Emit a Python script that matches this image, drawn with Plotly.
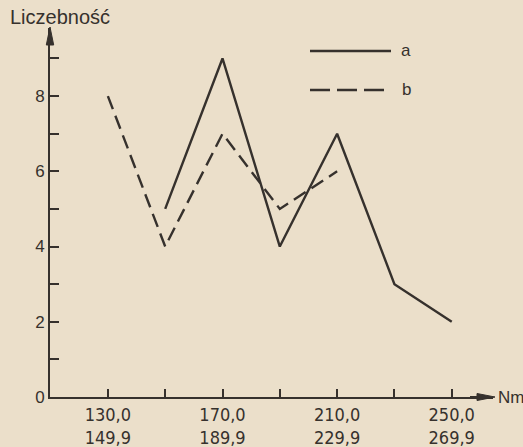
import plotly.graph_objects as go

# Class intervals (lower / upper bounds, Nm) and frequencies of the two series
lower = [130, 150, 170, 190, 210, 230, 250]
upper = ["149,9", "169,9", "189,9", "209,9", "229,9", "249,9", "269,9"]
lower_txt = ["130,0", "150,0", "170,0", "190,0", "210,0", "230,0", "250,0"]
series_a = [None, 5, 9, 4, 7, 3, 2]
series_b = [8, 4, 7, 5, 6, None, None]
y_ticks = [0, 1, 2, 3, 4, 5, 6, 7, 8, 9]

W, H = 523, 447
ML, MR, MT, MB = 50, 30, 28, 50
PW, PH = W - ML - MR, H - MT - MB

PAPER = "#ebdfca"
INK = "#36312d"
FONT = "Liberation Sans"
NARROW = "DejaVu Sans Condensed, Liberation Sans Narrow, Liberation Sans"


def px(x):
    return (x - ML) / PW


def py(y):
    return (H - MB - y) / PH


fig = go.Figure()
fig.add_trace(go.Scatter(x=lower, y=series_a, mode="lines", name="a",
                         line=dict(color=INK, width=2.4), connectgaps=False))
fig.add_trace(go.Scatter(x=lower, y=series_b, mode="lines", name="b",
                         line=dict(color=INK, width=2.4, dash="14px,7px"),
                         connectgaps=False))

xticktext = [f"{lo}<br>{up}" if i % 2 == 0 else "" for i, (lo, up) in
             enumerate(zip(lower_txt, upper))]
yticktext = [str(v) if v % 2 == 0 else "" for v in y_ticks]

fig.update_layout(
    width=W, height=H,
    margin=dict(l=ML, r=MR, t=MT, b=MB, pad=0, autoexpand=False),
    paper_bgcolor=PAPER, plot_bgcolor=PAPER,
    showlegend=False,
    font=dict(family=FONT, color=INK, size=17),
    xaxis=dict(range=[109.8, 264.4], showgrid=False, zeroline=False,
               automargin=False,
               showline=True, linecolor=INK, linewidth=2,
               ticks="inside", ticklen=8, tickwidth=1.5, tickcolor=INK,
               tickvals=lower, ticktext=xticktext,
               tickfont=dict(family=NARROW, size=18, color=INK)),
    yaxis=dict(range=[0, 9.81], showgrid=False, zeroline=False,
               automargin=False,
               showline=True, linecolor=INK, linewidth=2,
               ticks="inside", ticklen=9, tickwidth=1.5, tickcolor=INK,
               tickvals=y_ticks, ticktext=yticktext,
               tickfont=dict(family=FONT, size=17, color=INK)),
)

shapes = []
# arrowheads at the ends of both axes
shapes.append(dict(type="path", xref="paper", yref="paper",
                   path=f"M {px(50)} {py(27)} L {px(46.3)} {py(45)} L {px(53.7)} {py(45)} Z",
                   fillcolor=INK, line=dict(color=INK, width=1)))
shapes.append(dict(type="path", xref="paper", yref="paper",
                   path=f"M {px(495)} {py(397)} L {px(477)} {py(393.5)} L {px(477)} {py(400.5)} Z",
                   fillcolor=INK, line=dict(color=INK, width=1)))
shapes.append(dict(type="line", xref="paper", yref="paper",
                   x0=px(470), x1=px(480), y0=py(397), y1=py(397),
                   line=dict(color=INK, width=2)))
# key lines
shapes.append(dict(type="line", xref="paper", yref="paper",
                   x0=px(310), x1=px(391), y0=py(51), y1=py(51),
                   line=dict(color=INK, width=2.4)))
shapes.append(dict(type="line", xref="paper", yref="paper",
                   x0=px(310), x1=px(391), y0=py(90), y1=py(90),
                   line=dict(color=INK, width=2.4, dash="20px,7px")))
fig.update_layout(shapes=shapes)

annotations = [
    dict(text="Liczebność", x=px(8), y=py(17), xanchor="left", yanchor="middle",
         font=dict(family=FONT, size=20, color=INK)),
    dict(text="Nm", x=px(496), y=py(397), xanchor="left", yanchor="middle",
         font=dict(family=FONT, size=17, color=INK)),
    dict(text="a", x=px(399), y=py(50), xanchor="left", yanchor="middle",
         font=dict(family=FONT, size=17, color=INK)),
    dict(text="b", x=px(400), y=py(89), xanchor="left", yanchor="middle",
         font=dict(family=FONT, size=17, color=INK)),
]
for a in annotations:
    a.update(xref="paper", yref="paper", showarrow=False)
fig.update_layout(annotations=annotations)

fig.write_html("out.html")
